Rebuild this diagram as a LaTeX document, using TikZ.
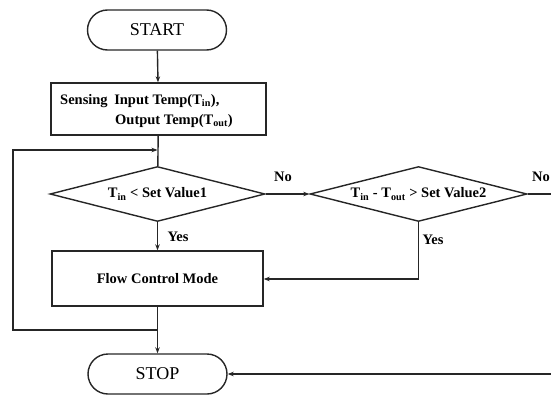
\documentclass[tikz,border=0pt]{standalone}
\usepackage{fontspec}
\setmainfont{Liberation Serif}
\usetikzlibrary{shapes.geometric,arrows.meta}
\tikzset{
  line/.style={draw=black!85, line width=1.4pt},
  arr/.style={line, -{Stealth[length=6pt,width=4.5pt]}},
  term/.style={line, rectangle, rounded corners=20pt, minimum width=139pt, minimum height=40pt, inner sep=0pt, font=\fontsize{18}{20}\selectfont},
  procbox/.style={line, rectangle, inner sep=0pt},
  decis/.style={line, diamond, aspect=4, inner sep=0pt, font=\bfseries\fontsize{14.5}{16}\selectfont},
  lbl/.style={font=\bfseries\fontsize{14.5}{16}\selectfont, inner sep=0pt},
}
\begin{document}
\begin{tikzpicture}[x=1pt,y=-1pt]
\useasboundingbox (0,0) rectangle (551,396);
\node[term] (start) at (157,30) {START};
\node[procbox, minimum width=215pt, minimum height=52pt] (sense) at (158.5,109) {};
\node[lbl, anchor=base west] (senseA) at (60,104.5) {Sensing\hspace{0.45em}Input Temp(T\textsubscript{in}),};
\node[lbl, anchor=base west] (senseB) at (115,124.5) {Output Temp(T\textsubscript{out})};
\node[decis, minimum width=215pt, minimum height=55pt] (d1) at (157.5,194) {T\textsubscript{in} < Set Value1};
\node[decis, minimum width=217pt, minimum height=55pt] (d2) at (418.5,194) {T\textsubscript{in} - T\textsubscript{out} > Set Value2};
\node[procbox, minimum width=211pt, minimum height=55pt, lbl] (flow) at (157.5,278.5) {Flow Control Mode};
\node[term] (stop) at (157.5,374) {STOP};

\coordinate (fbA) at (157.5,330);
\coordinate (fbB) at (13,330);
\coordinate (fbC) at (13,150);
\coordinate (fbD) at (157.5,150);
\coordinate (rA) at (556,194);
\coordinate (rB) at (556,374);
\coordinate (yA) at (418.5,279);

\draw[arr] (start) -- (sense);
\draw[line] (sense) -- (d1);
\draw[arr] (fbA) -- (fbB) -- (fbC) -- (fbD);
\draw[arr] (d1.east) -- (d2.west);
\draw[arr] (d1.south) -- (flow.north);
\draw[arr] (d2.east) -- (rA) -- (rB) -- (stop.east);
\draw[arr] (d2.south) -- (yA) -- (flow.east |- yA);
\draw[arr] (flow.south) -- (stop.north);

\node[lbl] (no1) at (283,177) {No};
\node[lbl] (no2) at (541,177) {No};
\node[lbl] (yes1) at (178,237) {Yes};
\node[lbl] (yes2) at (433,240) {Yes};
\end{tikzpicture}
\end{document}
